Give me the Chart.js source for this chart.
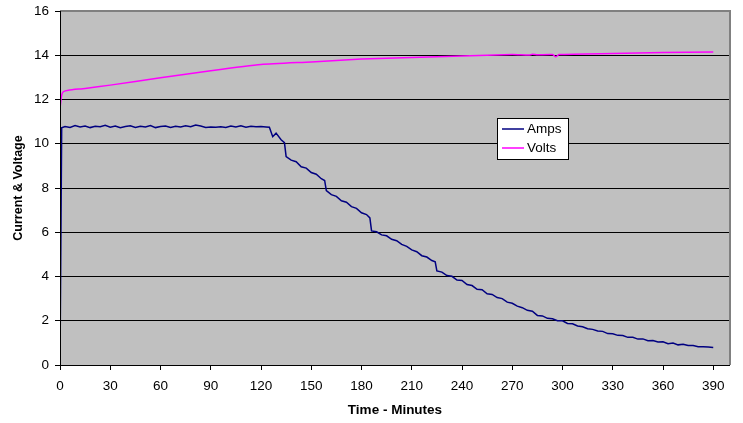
<!DOCTYPE html>
<html>
<head>
<meta charset="utf-8">
<script src="https://cdn.jsdelivr.net/npm/chart.js@4.4.1/dist/chart.umd.min.js"></script>
<style>
  html, body { margin: 0; padding: 0; background: #fff; }
  #wrap { width: 743px; height: 423px; }
</style>
</head>
<body>
<div id="wrap"><canvas id="chart"></canvas></div>
<script>
// Amps readings (minutes / amps)
const ampTimes = [0, 1, 3, 6, 9, 12, 15, 18, 21, 24, 27, 30, 33, 36, 39, 42, 45, 48, 51, 54, 57,
  60, 63, 66, 69, 72, 75, 78, 81, 84, 87, 90, 93, 96, 99, 102, 105, 108, 111, 114, 117,
  120, 123, 125, 127, 129, 132, 134, 135, 138, 141, 144, 147, 150, 153, 156, 158, 159, 162, 165, 168,
  171, 174, 177, 180, 183, 185, 186, 189, 192, 195, 198, 201, 204, 207, 210, 213, 216, 219,
  222, 224, 225, 228, 231, 234, 237, 240, 243, 246, 249, 252, 255, 258, 261, 264, 267, 270,
  273, 276, 279, 282, 285, 288, 291, 294, 297, 300, 303, 306, 309, 312, 315, 318, 321, 324,
  327, 330, 333, 336, 339, 342, 345, 348, 351, 354, 357, 360, 363, 366, 369, 372, 375, 378,
  381, 384, 387, 390];
const amps = [0, 10.72, 10.78, 10.74, 10.82, 10.76, 10.80, 10.73, 10.79, 10.77, 10.83, 10.75, 10.80, 10.72, 10.78, 10.81, 10.74, 10.79, 10.76, 10.82, 10.73,
  10.78, 10.80, 10.74, 10.79, 10.76, 10.81, 10.77, 10.85, 10.80, 10.74, 10.76, 10.75, 10.77, 10.74, 10.80, 10.76, 10.81, 10.75, 10.79, 10.77,
  10.78, 10.76, 10.75, 10.32, 10.48, 10.18, 10.05, 9.42, 9.26, 9.19, 8.96, 8.90, 8.70, 8.62, 8.42, 8.34, 7.88, 7.70, 7.62, 7.42,
  7.36, 7.16, 7.08, 6.88, 6.80, 6.65, 6.06, 6.02, 5.88, 5.84, 5.68, 5.62, 5.45, 5.36, 5.20, 5.12, 4.94, 4.88,
  4.72, 4.66, 4.25, 4.20, 4.04, 4.01, 3.84, 3.82, 3.64, 3.59, 3.42, 3.40, 3.22, 3.19, 3.05, 3.00, 2.84, 2.79,
  2.66, 2.59, 2.47, 2.43, 2.24, 2.22, 2.11, 2.09, 2.00, 2.00, 1.88, 1.86, 1.76, 1.73, 1.64, 1.61, 1.54, 1.52,
  1.42, 1.41, 1.34, 1.33, 1.25, 1.25, 1.17, 1.18, 1.10, 1.11, 1.04, 1.05, 0.96, 0.99, 0.91, 0.94, 0.88, 0.88,
  0.83, 0.82, 0.81, 0.79];

// Volts readings (minutes / volts)
const voltTimes = [0, 1, 2, 5, 15, 30, 60, 90, 120, 150, 180, 210, 240, 270, 280, 282, 285, 294, 296, 298, 330, 360, 390];
const volts = [11.6, 12.2, 12.35, 12.42, 12.5, 12.65, 12.98, 13.3, 13.58, 13.7, 13.83, 13.9, 13.97, 14.03, 14.01, 14.04, 14.02, 14.03, 13.93, 14.03, 14.08, 14.12, 14.15];

const xTickValues = [0, 30, 60, 90, 120, 150, 180, 210, 240, 270, 300, 330, 360, 390];

const FONT = "'Liberation Sans', Arial, sans-serif";

// grey plot area with a dark frame, like the old spreadsheet charts
const plotBg = {
  id: "plotBg",
  beforeDraw(chart) {
    const { ctx, chartArea: a } = chart;
    ctx.save();
    ctx.fillStyle = "#c0c0c0";
    ctx.fillRect(a.left, a.top, a.right - a.left, a.bottom - a.top);
    ctx.restore();
  },
  afterDatasetsDraw(chart) {
    const { ctx, chartArea: a } = chart;
    ctx.save();
    ctx.strokeStyle = "#808080";
    ctx.lineWidth = 2;
    ctx.beginPath();
    ctx.moveTo(a.left, a.top);
    ctx.lineTo(a.right, a.top);
    ctx.lineTo(a.right, a.bottom);
    ctx.stroke();
    ctx.strokeStyle = "#000";
    ctx.lineWidth = 1;
    ctx.beginPath();
    ctx.moveTo(a.left + 0.5, a.top);
    ctx.lineTo(a.left + 0.5, a.bottom + 0.5);
    ctx.lineTo(a.right, a.bottom + 0.5);
    ctx.stroke();
    ctx.restore();
  }
};

// small boxed legend inside the plot
const boxLegend = {
  id: "boxLegend",
  afterDraw(chart) {
    const { ctx } = chart;
    const x = 497, y = 118, w = 71, h = 41;
    ctx.save();
    ctx.fillStyle = "#fff";
    ctx.fillRect(x, y, w, h);
    ctx.strokeStyle = "#000";
    ctx.lineWidth = 1;
    ctx.strokeRect(x + 0.5, y + 0.5, w, h);
    ctx.font = "13.5px " + FONT;
    ctx.textBaseline = "middle";
    chart.data.datasets.forEach((ds, i) => {
      const ly = y + 11 + i * 19;
      ctx.strokeStyle = ds.borderColor;
      ctx.lineWidth = 1.5;
      ctx.beginPath();
      ctx.moveTo(x + 5, ly);
      ctx.lineTo(x + 27, ly);
      ctx.stroke();
      ctx.fillStyle = "#000";
      ctx.fillText(ds.label, x + 30, ly);
    });
    ctx.restore();
  }
};

new Chart(document.getElementById("chart"), {
  type: "line",
  data: {
    datasets: [
      {
        label: "Amps",
        data: ampTimes.map((t, i) => ({ x: t, y: amps[i] })),
        borderColor: "#000080",
        borderWidth: 1.5,
        pointRadius: 0,
        tension: 0
      },
      {
        label: "Volts",
        data: voltTimes.map((t, i) => ({ x: t, y: volts[i] })),
        borderColor: "#ff00ff",
        borderWidth: 1.5,
        pointRadius: 0,
        tension: 0.2
      }
    ]
  },
  options: {
    responsive: true,
    maintainAspectRatio: false,
    animation: false,
    layout: { padding: { left: 0, right: 13, top: 11, bottom: 0 } },
    plugins: {
      legend: { display: false },
      tooltip: { enabled: false }
    },
    scales: {
      x: {
        type: "linear",
        min: 0,
        max: 400,
        afterBuildTicks: (scale) => {
          scale.ticks = xTickValues.map(v => ({ value: v }));
        },
        afterFit: (scale) => { scale.height = 58; },
        grid: { drawOnChartArea: false, color: "#000", tickLength: 5 },
        border: { display: false },
        ticks: { color: "#000", font: { family: FONT, size: 13.5 }, maxRotation: 0, padding: 8 },
        title: {
          display: true,
          text: "Time - Minutes",
          color: "#000",
          font: { family: FONT, size: 13.5, weight: "bold" },
          padding: { top: 4, bottom: 5 }
        }
      },
      y: {
        min: 0,
        max: 16,
        afterFit: (scale) => {
          scale.width = 60;
          scale.paddingTop = 0;
          scale.paddingBottom = 0;
        },
        grid: { color: "#000", tickLength: 5 },
        border: { display: false },
        ticks: { stepSize: 2, color: "#000", font: { family: FONT, size: 13.5 }, padding: 6 },
        title: {
          display: true,
          text: "Current & Voltage",
          color: "#000",
          font: { family: FONT, size: 12.5, weight: "bold" },
          padding: { top: 11, bottom: 0 }
        }
      }
    }
  },
  plugins: [plotBg, boxLegend]
});
</script>
</body>
</html>
